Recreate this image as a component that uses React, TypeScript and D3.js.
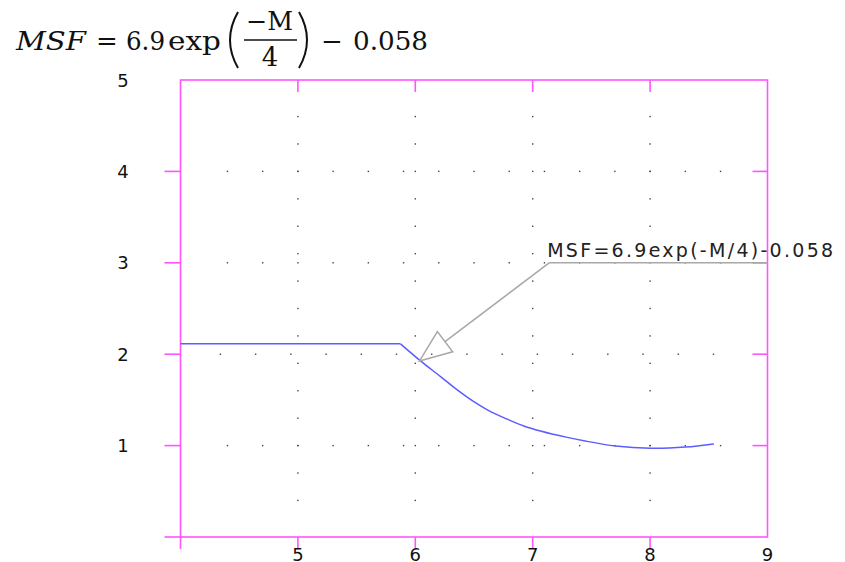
import * as d3 from "d3";

// curve (magnitude M, MSF)
const curveM = [4.0, 5.874, 6.044, 6.215, 6.357, 6.498, 6.641, 6.783, 6.924, 7.066, 7.294, 7.435, 7.705, 8.003, 8.301, 8.543];
const curveMSF = [2.113, 2.113, 1.927, 1.755, 1.609, 1.481, 1.372, 1.289, 1.215, 1.16, 1.09, 1.053, 0.996, 0.971, 0.984, 1.018];

const xTicks = [5, 6, 7, 8, 9];
const yTicks = [1, 2, 3, 4, 5];

// dotted grid: dots along each grid line
const dotRowsY = [1, 2, 3, 4];
const dotRowStart = [4.4, 4.34, 4.4, 4.4];
const dotColsX = [5, 6, 7, 8];
const dotColY = [0.4, 0.7, 1.0, 1.3, 1.6, 1.9, 2.2, 2.5, 2.8, 3.1, 3.4, 3.7, 4.0, 4.3, 4.6];

const noteText = "MSF=6.9exp(-M/4)-0.058";
const noteAt = { m: 7.14, msf: 3.0 };
const noteTip = { m: 6.036, msf: 1.926 };

export default function App() {
  const width = 845;
  const height = 562;
  const x = d3.scaleLinear().domain([4, 9]).range([180.5, 767.5]);
  const y = d3.scaleLinear().domain([0, 5]).range([537, 80]);

  const magenta = "#ff55ff";
  const pts: [number, number][] = curveM.map((m, i) => [x(m), y(curveMSF[i])]);
  // straight plateau, smooth decay after the kink
  const flat = d3.line()(pts.slice(0, 2)) || "";
  const decay = d3.line().curve(d3.curveCatmullRom.alpha(0.5))(pts.slice(1)) || "";

  const dots: { cx: number; cy: number }[] = [];
  dotRowsY.forEach((r, i) => {
    for (let k = 0; k < 15; k++) {
      const m = dotRowStart[i] + 0.3 * k;
      if (m < 8.7) dots.push({ cx: x(m), cy: y(r) });
    }
  });
  dotColsX.forEach((c) => dotColY.forEach((v) => dots.push({ cx: x(c), cy: y(v) })));

  // annotation arrow
  const tx = x(noteTip.m);
  const ty = y(noteTip.msf);
  const sx = x(noteAt.m);
  const sy = y(noteAt.msf);
  const dx = sx - tx;
  const dy = sy - ty;
  const len = Math.hypot(dx, dy);
  const ux = dx / len;
  const uy = dy / len;
  const bx = tx + ux * 32;
  const by = ty + uy * 32;
  const hw = 12.7;
  const tri = `M${tx},${ty}L${bx - uy * hw},${by + ux * hw}L${bx + uy * hw},${by - ux * hw}Z`;

  const labelFont = "'DejaVu Sans', Verdana, sans-serif";
  const serif = "'DejaVu Serif', 'Liberation Serif', serif";

  return (
    <svg
      width={width}
      height={height}
      style={{ position: "fixed", left: 0, top: 0, background: "#fff" }}
    >
      {/* formula title */}
      <g fontFamily={serif} fill="#111" fontSize={26}>
        <text x={16} y={50} fontStyle="italic" textLength={70} lengthAdjust="spacingAndGlyphs">MSF</text>
        <text x={107} y={50} textAnchor="middle">=</text>
        <text x={126} y={50} textLength={39} lengthAdjust="spacingAndGlyphs">6.9</text>
        <text x={168} y={50} textLength={53} lengthAdjust="spacingAndGlyphs">exp</text>
        <path d="M238,12 Q222,40 238,68" fill="none" stroke="#111" strokeWidth={2} />
        <text x={246} y={30} textLength={47} lengthAdjust="spacingAndGlyphs">−M</text>
        <line x1={244} x2={297} y1={40} y2={40} stroke="#111" strokeWidth={1.6} />
        <text x={270} y={66} textAnchor="middle">4</text>
        <path d="M299,12 Q315,40 299,68" fill="none" stroke="#111" strokeWidth={2} />
        <text x={332} y={50} textAnchor="middle">−</text>
        <text x={353} y={50} textLength={75} lengthAdjust="spacingAndGlyphs">0.058</text>
      </g>

      {/* grid dots */}
      {dots.map((d, i) => (
        <rect key={i} x={d.cx - 0.7} y={d.cy - 0.7} width={1.4} height={1.4} fill="#444" />
      ))}

      {/* frame */}
      <rect
        x={x(4)}
        y={y(5)}
        width={x(9) - x(4)}
        height={y(0) - y(5)}
        fill="none"
        stroke={magenta}
        strokeWidth={1.6}
      />
      {/* ticks */}
      {[4, ...xTicks.slice(0, 4)].map((t) => (
        <line key={"xb" + t} x1={x(t)} x2={x(t)} y1={y(0)} y2={y(0) + 12} stroke={magenta} strokeWidth={1.6} />
      ))}
      {xTicks.slice(0, 4).map((t) => (
        <line key={"xt" + t} x1={x(t)} x2={x(t)} y1={y(5)} y2={y(5) + 12} stroke={magenta} strokeWidth={1.6} />
      ))}
      {[0, ...yTicks.slice(0, 4)].map((t) => (
        <line key={"yl" + t} x1={x(4) - 16} x2={x(4)} y1={y(t)} y2={y(t)} stroke={magenta} strokeWidth={1.6} />
      ))}
      {yTicks.slice(0, 4).map((t) => (
        <line key={"yr" + t} x1={x(9) - 15} x2={x(9)} y1={y(t)} y2={y(t)} stroke={magenta} strokeWidth={1.6} />
      ))}

      {/* tick labels */}
      <g fontFamily={labelFont} fontSize={18} fill="#111">
        {yTicks.map((t) => (
          <text key={"ly" + t} x={123} y={y(t) + 6.5} textAnchor="middle">{t}</text>
        ))}
        {xTicks.map((t) => (
          <text key={"lx" + t} x={x(t)} y={561} textAnchor="middle">{t}</text>
        ))}
      </g>

      {/* MSF curve */}
      <path d={flat} fill="none" stroke="#5c5cff" strokeWidth={1.5} />
      <path d={decay} fill="none" stroke="#5c5cff" strokeWidth={1.5} />

      {/* annotation */}
      <g stroke="#a8a8a8" strokeWidth={1.5} fill="none">
        <line x1={sx} y1={sy} x2={x(9)} y2={sy} />
        <line x1={sx} y1={sy} x2={bx} y2={by} />
        <path d={tri} />
      </g>
      <text
        x={sx - 2}
        y={sy - 6}
        fontFamily={labelFont}
        fontSize={19}
        fill="#222"
        textLength={286}
        lengthAdjust="spacing"
      >
        {noteText}
      </text>
    </svg>
  );
}
